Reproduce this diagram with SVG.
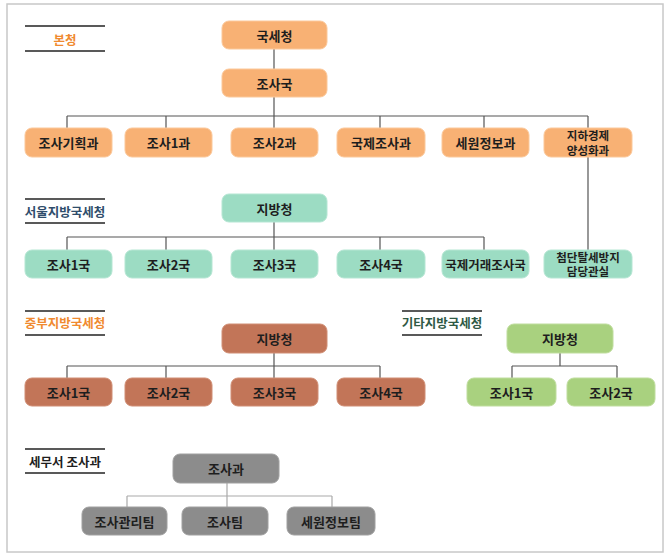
<svg xmlns="http://www.w3.org/2000/svg" width="670" height="557" viewBox="0 0 670 557">
<style>
.t{font-family:"Noto Sans CJK KR","Noto Sans",sans-serif;font-weight:bold;font-size:13px;fill:#1e1e1e;text-anchor:middle;dominant-baseline:central}
.t2{font-size:11.5px}
.lbl{font-family:"Noto Sans CJK KR","Noto Sans",sans-serif;font-weight:bold;font-size:12.5px;text-anchor:middle;dominant-baseline:central}
.o{fill:#f8b174;stroke:#fbc89a;stroke-width:1}
.m{fill:#9cdcc3;stroke:#b5e6d3;stroke-width:1}
.b{fill:#c27558;stroke:#d08e74;stroke-width:1}
.g{fill:#a9d17f;stroke:#bfdd9e;stroke-width:1}
.k{fill:#8c8c8c;stroke:#a0a0a0;stroke-width:1}
.c{fill:none;stroke:#555;stroke-width:1.2}
.cl{fill:none;stroke:#aaa;stroke-width:1.2}
.rule{stroke:#222;stroke-width:1.6}
</style>
<rect x="7" y="4" width="656" height="548" fill="#fff" stroke="#c8c8c8" stroke-width="1.5"/>

<g id="connectors">
<path class="c" d="M274 49V69M274 97V128M67 116H588M67 116V128M166 116V128M380 116V128M484 116V128M588 116V250"/>
<path class="c" d="M274 222V250M67 237H484M67 237V250M166 237V250M380 237V250M484 237V250"/>
<path class="c" d="M274 353V378M67 366H380M67 366V378M166 366V378M380 366V378"/>
<path class="c" d="M560 353V366M512 366H617M512 366V378M617 366V378"/>
<path class="cl" d="M227 483V507M127 496H332M127 496V507M332 496V507"/>
</g>

<g id="label-bonchung">
<line class="rule" x1="25" y1="26" x2="105" y2="26"/>
<line class="rule" x1="25" y1="51" x2="105" y2="51"/>
<text class="lbl" x="65" y="39" fill="#f08a30">본청</text>
</g>
<g id="label-seoul">
<line class="rule" x1="25" y1="199" x2="105" y2="199"/>
<line class="rule" x1="25" y1="223" x2="105" y2="223"/>
<text class="lbl" x="65" y="211" fill="#2f4d6b">서울지방국세청</text>
</g>
<g id="label-jungbu">
<line class="rule" x1="25" y1="311" x2="105" y2="311"/>
<line class="rule" x1="25" y1="335" x2="105" y2="335"/>
<text class="lbl" x="65" y="322" fill="#f08a30">중부지방국세청</text>
</g>
<g id="label-gita">
<line class="rule" x1="402" y1="311" x2="482" y2="311"/>
<line class="rule" x1="402" y1="335" x2="482" y2="335"/>
<text class="lbl" x="442" y="322" fill="#2f5a45">기타지방국세청</text>
</g>
<g id="label-semuseo">
<line class="rule" x1="25" y1="449" x2="105" y2="449"/>
<line class="rule" x1="25" y1="473" x2="105" y2="473"/>
<text class="lbl" x="65" y="461" fill="#1e1e1e">세무서 조사과</text>
</g>

<g id="n-nts"><rect class="o" x="222" y="21" width="105" height="28" rx="7"/><text class="t" x="274.5" y="35">국세청</text></g>
<g id="n-josaguk"><rect class="o" x="222" y="69" width="105" height="28" rx="7"/><text class="t" x="274.5" y="83">조사국</text></g>
<g id="n-gihoek"><rect class="o" x="25" y="128" width="87" height="29" rx="7"/><text class="t" x="68.5" y="142.5">조사기획과</text></g>
<g id="n-1gwa"><rect class="o" x="125" y="128" width="87" height="29" rx="7"/><text class="t" x="168.5" y="142.5">조사1과</text></g>
<g id="n-2gwa"><rect class="o" x="231" y="128" width="87" height="29" rx="7"/><text class="t" x="274.5" y="142.5">조사2과</text></g>
<g id="n-gukje"><rect class="o" x="337" y="128" width="88" height="29" rx="7"/><text class="t" x="381" y="142.5">국제조사과</text></g>
<g id="n-sewon"><rect class="o" x="442" y="128" width="87" height="29" rx="7"/><text class="t" x="485.5" y="142.5">세원정보과</text></g>
<g id="n-jiha"><rect class="o" x="544" y="128" width="88" height="29" rx="7"/><text class="t t2" x="588" y="135">지하경제</text><text class="t t2" x="588" y="149.5">양성화과</text></g>

<g id="n-seoul"><rect class="m" x="222" y="194" width="105" height="28" rx="7"/><text class="t" x="274.5" y="208">지방청</text></g>
<g id="n-s1"><rect class="m" x="25" y="250" width="87" height="28" rx="7"/><text class="t" x="68.5" y="264">조사1국</text></g>
<g id="n-s2"><rect class="m" x="125" y="250" width="87" height="28" rx="7"/><text class="t" x="168.5" y="264">조사2국</text></g>
<g id="n-s3"><rect class="m" x="231" y="250" width="87" height="28" rx="7"/><text class="t" x="274.5" y="264">조사3국</text></g>
<g id="n-s4"><rect class="m" x="337" y="250" width="88" height="28" rx="7"/><text class="t" x="381" y="264">조사4국</text></g>
<g id="n-sgukje"><rect class="m" x="442" y="250" width="87" height="28" rx="7"/><text class="t" x="485.5" y="264" style="font-size:12.5px">국제거래조사국</text></g>
<g id="n-cheomdan"><rect class="m" x="544" y="250" width="88" height="28" rx="7"/><text class="t t2" x="588" y="256.5">첨단탈세방지</text><text class="t t2" x="588" y="271">담당관실</text></g>

<g id="n-jungbu"><rect class="b" x="222" y="324" width="105" height="29" rx="7"/><text class="t" x="274.5" y="338.5">지방청</text></g>
<g id="n-j1"><rect class="b" x="25" y="378" width="87" height="28" rx="7"/><text class="t" x="68.5" y="392">조사1국</text></g>
<g id="n-j2"><rect class="b" x="125" y="378" width="87" height="28" rx="7"/><text class="t" x="168.5" y="392">조사2국</text></g>
<g id="n-j3"><rect class="b" x="231" y="378" width="87" height="28" rx="7"/><text class="t" x="274.5" y="392">조사3국</text></g>
<g id="n-j4"><rect class="b" x="337" y="378" width="88" height="28" rx="7"/><text class="t" x="381" y="392">조사4국</text></g>

<g id="n-gita"><rect class="g" x="507" y="324" width="106" height="29" rx="7"/><text class="t" x="560" y="338.5">지방청</text></g>
<g id="n-g1"><rect class="g" x="467" y="378" width="89" height="28" rx="7"/><text class="t" x="511.5" y="392">조사1국</text></g>
<g id="n-g2"><rect class="g" x="567" y="378" width="88" height="28" rx="7"/><text class="t" x="611" y="392">조사2국</text></g>

<g id="n-josagwa"><rect class="k" x="173" y="454" width="106" height="29" rx="7"/><text class="t" x="226" y="468.5">조사과</text></g>
<g id="n-gwanri"><rect class="k" x="82" y="507" width="85" height="28" rx="7"/><text class="t" x="124.5" y="521">조사관리팀</text></g>
<g id="n-josatim"><rect class="k" x="182" y="507" width="86" height="28" rx="7"/><text class="t" x="225" y="521">조사팀</text></g>
<g id="n-sewontim"><rect class="k" x="287" y="507" width="88" height="28" rx="7"/><text class="t" x="331" y="521">세원정보팀</text></g>
</svg>
